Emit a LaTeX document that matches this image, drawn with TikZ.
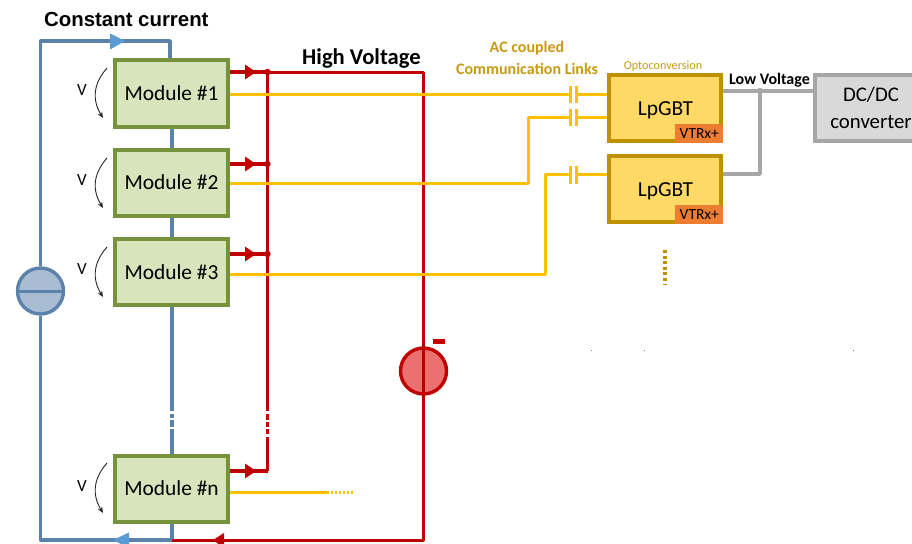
\documentclass[tikz,border=0pt]{standalone}
\usepackage{fontspec}
\setmainfont{Carlito}
\newfontfamily\arialfont{Liberation Sans}
\definecolor{cblue}{HTML}{5B82AB}
\definecolor{cbluea}{HTML}{5B9BD5}
\definecolor{cbluef}{HTML}{A9BDD2}
\definecolor{cgreen}{HTML}{76923C}
\definecolor{cgreenf}{HTML}{D7E4BC}
\definecolor{cred}{HTML}{C00000}
\definecolor{credf}{HTML}{EB7070}
\definecolor{cyel}{HTML}{FFC000}
\definecolor{cgold}{HTML}{BF9000}
\definecolor{cgoldf}{HTML}{FFD966}
\definecolor{cvtr}{HTML}{ED7D31}
\definecolor{cgrey}{HTML}{A6A6A6}
\definecolor{cgreyf}{HTML}{D9D9D9}
\definecolor{ctxt}{HTML}{C79A14}
\tikzset{
  modbox/.style={draw=cgreen,fill=cgreenf,line width=4pt,minimum width=113pt,minimum height=66pt,inner sep=0pt,font=\fontsize{21.4}{24}\selectfont},
  lpbox/.style={draw=cgold,fill=cgoldf,line width=4pt,minimum width=112pt,minimum height=66pt,inner sep=0pt},
  lptext/.style={font=\fontsize{21.4}{24}\selectfont,inner sep=0pt},
  vtrbox/.style={fill=cvtr,minimum width=48pt,minimum height=19pt,inner sep=0pt,font=\fontsize{15.5}{17}\selectfont},
  dcbox/.style={draw=cgrey,fill=cgreyf,line width=4pt,minimum width=112pt,minimum height=66pt,inner sep=0pt,align=center,font=\fontsize{20.8}{27}\selectfont},
  bluew/.style={draw=cblue,line width=3.4pt},
  redw/.style={draw=cred,line width=3pt},
  redthick/.style={draw=cred,line width=4.5pt},
  yelw/.style={draw=cyel,line width=3pt},
  greyw/.style={draw=cgrey,line width=3.6pt},
  capw/.style={draw=cyel,line width=3pt},
  vcurve/.style={draw=black!85,line width=0.9pt,-{Stealth[length=6pt,width=5pt]}},
  vlabel/.style={font=\fontsize{17}{18}\selectfont,inner sep=0pt},
  srcblue/.style={circle,draw=cblue,fill=cbluef,line width=3.4pt,minimum size=46pt,inner sep=0pt},
  srcred/.style={circle,draw=cred,fill=credf,line width=3.4pt,minimum size=46pt,inner sep=0pt},
  gap/.style={draw=white,line width=1.5pt},
  hda/.style={font=\arialfont\bfseries\fontsize{20.4}{24}\selectfont,inner sep=0pt},
  hd/.style={font=\bfseries\fontsize{22.6}{24}\selectfont,inner sep=0pt},
  gold/.style={font=\bfseries\fontsize{16}{18}\selectfont,text=ctxt,inner sep=0pt},
}
\usetikzlibrary{arrows.meta}
\begin{document}
\begin{tikzpicture}[x=1pt,y=-1pt]
\useasboundingbox (0,0) rectangle (912,543);
\clip (0,0) rectangle (912,543);
% nodes
\node[modbox] (m1) at (171.5,93.5) {\raisebox{-1pt}{Module \#1}};
\node[modbox] (m2) at (171.5,182.5) {\raisebox{-1pt}{Module \#2}};
\node[modbox] (m3) at (171.5,272) {\raisebox{-1pt}{Module \#3}};
\node[modbox] (mn) at (171.5,488.5) {\raisebox{-1pt}{Module \#n}};
\node[lpbox] (l1) at (665,108) {};
\node[lpbox] (l2) at (665,189) {};
\node[lptext] (t1) at (665.5,110) {LpGBT};
\node[lptext] (t2) at (665.5,191) {LpGBT};
\node[vtrbox,anchor=south east] (v1) at (723.5,143.5) {VTRx+};
\node[vtrbox,anchor=south east] (v2) at (723.5,224.5) {VTRx+};
\node[dcbox,anchor=west] (dc) at (813,108) {DC/DC\\converter};
% coordinates
\coordinate (tl) at (40.5,41);
\coordinate (tr) at (170,41);
\coordinate (bl) at (40.5,540);
\coordinate (br) at (172,540);
\coordinate (j1) at (267.5,72);
\coordinate (j2) at (267.5,164);
\coordinate (j3) at (267.5,254);
\coordinate (jn) at (267.5,471);
\coordinate (hvt) at (423.5,72);
\coordinate (hvb) at (423.5,540);
\coordinate (y1) at (607,94);
\coordinate (y2a) at (528,183);
\coordinate (y2b) at (528,117.5);
\coordinate (y2c) at (607,117.5);
\coordinate (y3a) at (545,274);
\coordinate (y3b) at (545,174);
\coordinate (y3c) at (607,174);
\coordinate (ynend) at (329,492);
\coordinate (g1) at (760,91);
\coordinate (g2) at (760,174);
% blue circuit
\node[srcblue] (cs) at (40.5,291) {};
\draw[bluew,line join=round] (cs.north) -- (tl) -- (tr) -- (tr |- m1.north);
\draw[bluew,line join=round] (cs.south) -- (bl) -- (br) -- (br |- mn.south);
\draw[bluew] (m1.south -| br) -- (m2.north -| br);
\draw[bluew] (m2.south -| br) -- (m3.north -| br);
\draw[bluew] (m3.south -| br) -- (mn.north -| br);
\draw[cblue,line width=3pt] (cs.west) -- (cs.east);
\draw[gap,line width=3pt] (165,412.5) -- (179,412.5);
\draw[gap] (165,419) -- (179,419);
\draw[gap,line width=2pt] (165,428) -- (179,428);
\fill[cbluea] (125,41) -- (110,33.5) -- (110,49.5) -- cycle;
\fill[cbluea] (113,540) -- (129,532.5) -- (129,548) -- cycle;
% red circuit
\draw[redw] (j1) -- (jn);
\draw[redw,line join=round] (j1) -- (hvt) -- (hvb) -- (br);
\draw[redthick] (m1.east |- j1) -- (j1);
\draw[redthick] (m2.east |- j2) -- (j2);
\draw[redthick] (m3.east |- j3) -- (j3);
\draw[redthick] (mn.east |- jn) -- (jn);
\foreach \p in {j1,j2,j3} \fill[cred] (\p) circle (3.2pt);
\foreach \y in {72,164,254,471} \fill[cred] (256,\y) -- (245,\y-7.5) -- (245,\y+7.5) -- cycle;
\fill[cred] (213,540) -- (224,533) -- (224,548) -- cycle;
\draw[gap,line width=3pt] (260,412.5) -- (275,412.5);
\draw[gap] (260,421) -- (275,421);
\draw[gap,line width=2pt] (260,428) -- (275,428);
\draw[gap,line width=3pt] (260,435) -- (275,435);
\node[srcred] (hv) at (423.5,371) {};
\draw[cred,line width=3pt] (hv.north) -- (hv.south);
\fill[cred] (433,339) rectangle (444.5,343.5);
% yellow links
\draw[yelw] (m1.east |- y1) -- (570.5,94);
\draw[yelw] (576,94) -- (y1);
\draw[yelw,line join=round] (m2.east |- y2a) -- (y2a) -- (y2b) -- (570.5,117.5);
\draw[yelw] (576,117.5) -- (y2c);
\draw[yelw,line join=round] (m3.east |- y3a) -- (y3a) -- (y3b) -- (570.5,174);
\draw[yelw] (576,174) -- (y3c);
\foreach \y in {94.5,117.5,175} {\draw[capw] (570.5,\y-9) -- (570.5,\y+8.5); \draw[capw] (576,\y-9) -- (576,\y+8.5);}
\draw[yelw] (mn.east |- ynend) -- (ynend);
\draw[yelw,dash pattern=on 2pt off 2pt] (331,492) -- (354,492);
% grey
\draw[greyw] (l1.east |- g1) -- (dc.west |- g1);
\draw[greyw,line join=round] (g1) -- (g2) -- (l2.east |- g2);
\fill[cgrey] (g1) circle (3.2pt);
% dots
\draw[cgold,line width=3.5pt,dash pattern=on 3pt off 2.6pt] (665,250) -- (665,284);
% V labels and curves
\foreach \y/\yy in {90/68,180/158,269/247,486/463} {
  \node[vlabel] at (82,\y) {V};
  \draw[vcurve] (107,\yy) .. controls (93,\yy+16) and (92,\yy+32) .. (103,\yy+50);
}
% text
\node[hda,anchor=west] (cc) at (44,19) {Constant current};
\node[hd,anchor=west] (hvl) at (302,58.5) {High Voltage};
\node[gold] (ac1) at (527,48) {AC coupled};
\node[gold] (ac2) at (527,69) {Communication Links};
\node[font=\fontsize{12.2}{13}\selectfont,text=ctxt,inner sep=0pt] (oc) at (663,66) {Optoconversion};
\node[font=\bfseries\fontsize{16}{18}\selectfont,inner sep=0pt] (lv) at (769.5,80) {Low Voltage};
% specks
\fill[gray] (590.5,349.5) rectangle (592,351);
\fill[gray] (643.5,349.5) rectangle (645,351);
\fill[gray] (852.5,349.5) rectangle (854,351);
\end{tikzpicture}
\end{document}
